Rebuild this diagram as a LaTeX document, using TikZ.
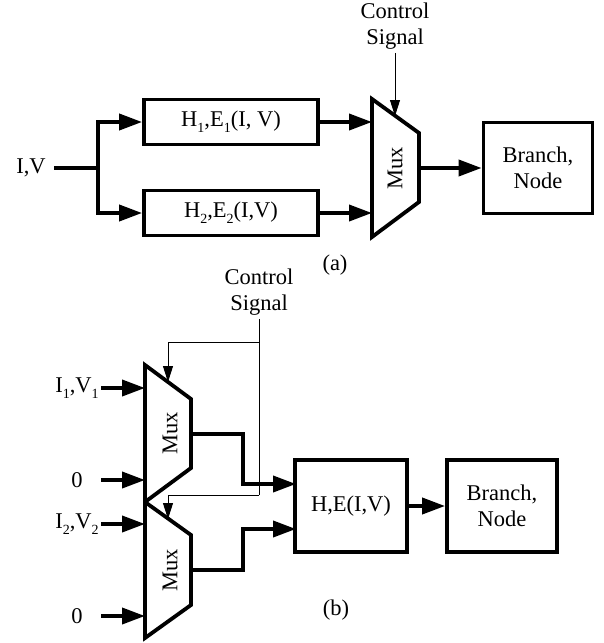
\documentclass[tikz,border=0pt]{standalone}
\usepackage{fontspec}
\setmainfont{Liberation Serif}
\usetikzlibrary{arrows.meta,positioning,calc}

\newcommand{\lowix}[1]{\raisebox{-0.55ex}{\fontsize{14}{14}\selectfont #1}}

\tikzset{
  blk/.style={draw, line width=3.8pt, inner sep=0pt, align=center},
  wire/.style={line width=3.8pt},
  feed/.style={wire, -{Triangle[length=23pt,width=16pt]}},
  ctrl/.style={line width=0.9pt, -{Triangle[length=16pt,width=10pt]}},
  lbl/.style={minimum width=48pt, inner sep=0pt}
}

\begin{document}
\begin{tikzpicture}[x=1pt,y=-1pt,every node/.style={font=\fontsize{22.5}{26}\selectfont}]
\useasboundingbox (0,0) rectangle (603,643);

% (a)
\node (iv) at (31,168) {I,V};
\coordinate (split) at (98,168);
\node[blk, minimum width=174pt, minimum height=45pt] (h1) at (231,122) {H\lowix{1},E\lowix{1}(I, V)};
\node[blk, minimum width=174pt, minimum height=45pt] (h2) at (231,213) {H\lowix{2},E\lowix{2}(I,V)};
\draw[wire] (372,99) -- (419,133) -- (419,202) -- (372,237) -- cycle;
\node[rotate=90] (muxa) at (395,168) {Mux};
\coordinate (muxa-in1) at (372,122);
\coordinate (muxa-in2) at (372,213);
\coordinate (muxa-out) at (419,168);
\coordinate (muxa-sel) at (395,116);
\node[blk, minimum width=109pt, minimum height=91pt] (bna) at (538,168) {Branch,\\Node};
\node[align=center] (csa) at (395,26) {Control\\Signal};
\node (capa) at (335,265) {(a)};

\draw[wire, shorten <=5pt] (iv.east) -- (split);
\draw[feed] (split) |- (h1);
\draw[feed] (split) |- (h2);
\draw[feed] (h1) -- (muxa-in1);
\draw[feed] (h2) -- (muxa-in2);
\draw[feed] (muxa-out) -- (bna);
\draw[ctrl] (csa.south) -- (muxa-sel);

% (b)
\node[align=center] (csb) at (259,292) {Control\\Signal};
\coordinate (tap1) at (259,342);
\coordinate (tap2) at (259,495);
\draw[wire] (145,365) -- (191,399) -- (191,468) -- (145,502) -- cycle;
\draw[wire] (145,502) -- (191,535) -- (191,605) -- (145,638) -- cycle;
\node[rotate=90] (muxb1) at (170,433) {Mux};
\node[rotate=90] (muxb2) at (170,570) {Mux};
\coordinate (muxb1-sel) at (168,382);
\coordinate (muxb2-sel) at (168,519);
\coordinate (outb1) at (191,434);
\coordinate (outb2) at (191,570);
\foreach \y/\lab [count=\k] in {388/{I\lowix{1},V\lowix{1}}, 480/0, 524/{I\lowix{2},V\lowix{2}}, 616/0}{
  \node[lbl] (in\k) at (77,\y) {\lab};
  \coordinate (port\k) at (145,\y);
  \draw[feed] (in\k.east) -- (port\k);
}
\node[blk, minimum width=112pt, minimum height=92pt] (he) at (351,506) {H,E(I,V)};
\node[blk, minimum width=110pt, minimum height=92pt] (bnb) at (502,506) {Branch,\\Node};
\coordinate (hein1) at (296,484);
\coordinate (hein2) at (296,529);
\node (capb) at (336,610) {(b)};

\draw[line width=0.9pt] (csb.south) -- (tap2);
\draw[ctrl] (tap1) -| (muxb1-sel);
\draw[ctrl] (tap2) -| (muxb2-sel);
\draw[feed] (outb1) -- ++(52,0) |- (hein1);
\draw[feed] (outb2) -- ++(52,0) |- (hein2);
\draw[feed] (he) -- (bnb);
\end{tikzpicture}
\end{document}
